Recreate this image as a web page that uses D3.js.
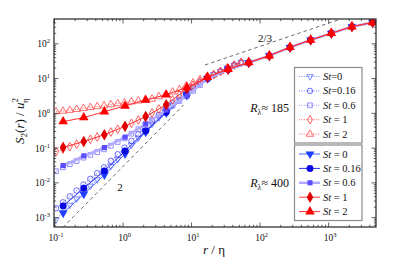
<!DOCTYPE html>
<html>
<head>
<meta charset="utf-8">
<script src="https://cdn.jsdelivr.net/npm/d3@7"></script>
<style>
  body { margin: 0; background: #fff; }
  svg text { font-family: "Liberation Serif", "Times New Roman", "DejaVu Serif", serif; fill: #111; }
</style>
</head>
<body>
<div id="chart"></div>
<script>
// r/eta sample positions
const xFilled = [0.136, 0.272, 0.544, 1.09, 2.18, 4.35, 8.7, 17.4, 34.8, 69.6, 139, 278, 557, 1114, 2228, 4456];
const xOpen = [0.107, 0.135, 0.170, 0.214, 0.269, 0.339, 0.427, 0.537, 0.676, 0.851, 1.07, 1.35, 1.70, 2.14,
  2.69, 3.39, 4.27, 5.37, 6.76, 8.51, 10.7, 13.5, 17.0, 21.4, 26.9, 33.9, 42.7, 53.7];

// R_lambda ~ 400 (filled)
const f_st0 = [0.0013, 0.0046, 0.0164, 0.066, 0.28, 1.0, 3.2, 9.6, 17.5, 27.5, 44, 76, 124, 194, 300, 396];
const f_st016 = [0.0021, 0.0068, 0.0214, 0.08, 0.3, 1.04, 3.3, 9.6, 17.5, 27.5, 44, 76, 124, 194, 300, 396];
const f_st06 = [0.0304, 0.058, 0.1, 0.2, 0.48, 1.21, 3.1, 9.5, 17.6, 27.6, 44, 76, 124, 194, 300, 396];
const f_st1 = [0.102, 0.15, 0.235, 0.41, 0.78, 1.72, 4.9, 10.6, 18, 28, 44, 77, 125, 195, 300, 398];
const f_st2 = [0.56, 0.73, 1.08, 1.58, 2.35, 3.3, 5.4, 10.5, 18, 28, 44, 77, 125, 195, 302, 400];

// R_lambda ~ 185 (open)
const o_st0 = [0.00085, 0.0014, 0.00224, 0.0034, 0.0052, 0.0079, 0.012, 0.0184, 0.0291, 0.0462, 0.0735, 0.119,
  0.191, 0.309, 0.474, 0.724, 1.10, 1.63, 2.38, 3.47, 4.9, 7.1, 10.0, 12.5, 15.5, 19.5, 23.5, 28];
const o_st016 = [0.0018, 0.00266, 0.00394, 0.00582, 0.0086, 0.0126, 0.0184, 0.0269, 0.0416, 0.0644, 0.100, 0.155,
  0.240, 0.373, 0.565, 0.853, 1.29, 1.90, 2.79, 3.8, 5.3, 7.6, 10.0, 12.5, 15.5, 19.5, 23.5, 28];
const o_st06 = [0.021, 0.0269, 0.0333, 0.0412, 0.0513, 0.0617, 0.0741, 0.0891, 0.113, 0.145, 0.184, 0.251,
  0.339, 0.457, 0.631, 0.871, 1.18, 1.61, 2.20, 3.0, 4.3, 6.3, 9.6, 12.5, 15.5, 19.5, 23.5, 28];
const o_st1 = [0.076, 0.091, 0.107, 0.126, 0.145, 0.173, 0.201, 0.233, 0.280, 0.337, 0.405, 0.50,
  0.62, 0.767, 0.99, 1.29, 1.68, 2.36, 3.34, 4.73, 6.2, 8.0, 10.3, 12.5, 15.5, 19.5, 23.5, 28];
const o_st2 = [1.08, 1.12, 1.19, 1.26, 1.35, 1.43, 1.52, 1.62, 1.73, 1.84, 1.95, 2.08,
  2.21, 2.35, 2.5, 2.95, 3.4, 4.0, 4.7, 6.0, 7.4, 9.1, 10.7, 12.6, 15.5, 19.5, 23.5, 28];

// reference slopes: [x0, x1], prefactor, exponent, label position
const slope2 = { x: [0.135, 7.8], c: 0.0278, p: 2, label: "2", at: [0.92, 0.0057] };
const slope23 = { x: [16, 1450], c: 3.75, p: 2 / 3, label: "2/3", at: [120, 109] };

const stLabelsOpen = ["=0", "=0.16", " = 0.6", " = 1", " = 2"];
const stLabelsFilled = [" = 0", " = 0.16", " = 0.6", " = 1", " = 2"];

const width = 415, height = 265;
const plot = { left: 54, right: 376, top: 19, bottom: 227 };

const svg = d3.select("#chart").append("svg")
  .attr("width", width).attr("height", height)
  .attr("font-family", "Liberation Serif, serif");

const x = d3.scaleLog().domain([0.1, 5000]).range([plot.left, plot.right]);
const y = d3.scaleLog().domain([5.2e-4, 500]).range([plot.bottom, plot.top]);

svg.append("clipPath").attr("id", "clip").append("rect")
  .attr("x", plot.left).attr("y", plot.top)
  .attr("width", plot.right - plot.left).attr("height", plot.bottom - plot.top);

const sym = {
  tri: d3.symbolTriangle, inv: d3.symbolTriangle, circ: d3.symbolCircle,
  sq: d3.symbolSquare, dia: d3.symbolDiamond
};

const openSeries = [
  { vals: o_st0, shape: "inv", color: "#5c74ff", size: 17 },
  { vals: o_st016, shape: "circ", color: "#4a4cff", size: 24 },
  { vals: o_st06, shape: "sq", color: "#7a72ff", size: 22 },
  { vals: o_st1, shape: "dia", color: "#ff3a3a", size: 22 },
  { vals: o_st2, shape: "tri", color: "#ff4848", size: 24 }
];
const filledSeries = [
  { vals: f_st0, shape: "inv", color: "#1f3fff", line: "#4a66ff", lw: 1, size: 34 },
  { vals: f_st016, shape: "circ", color: "#0a0ae0", line: "#3030e8", lw: 1, size: 38 },
  { vals: f_st06, shape: "sq", color: "#5a4cff", line: "#b2aaff", lw: 2.4, size: 26 },
  { vals: f_st1, shape: "dia", color: "#e00000", line: "#ff3a3a", lw: 1, size: 38 },
  { vals: f_st2, shape: "tri", color: "#ff0000", line: "#ff3030", lw: 1, size: 40 }
];

const g = svg.append("g").attr("clip-path", "url(#clip)");

const line = d3.line().x(d => x(d[0])).y(d => y(d[1]));

// guide lines
[slope2, slope23].forEach(s => {
  const pts = s.x.map(v => [v, s.c * Math.pow(v, s.p)]);
  g.append("path").attr("d", line(pts))
    .attr("fill", "none").attr("stroke", "#444").attr("stroke-width", 0.8)
    .attr("stroke-dasharray", "3.5,3");
  svg.append("text").attr("x", x(s.at[0])).attr("y", y(s.at[1]))
    .attr("text-anchor", "middle").style("font-size", "11px").text(s.label);
});

function marker(shape, size) {
  return d3.symbol().type(sym[shape]).size(size)();
}
function rot(shape) { return shape === "inv" ? " rotate(180)" : ""; }

// open series (R ~ 185): dotted lines
openSeries.forEach(s => {
  const pts = xOpen.map((v, i) => [v, s.vals[i]]);
  g.append("path").attr("d", line(pts)).attr("fill", "none")
    .attr("stroke", s.color).attr("stroke-width", 0.8).attr("stroke-dasharray", "1,1.4");
  g.selectAll(null).data(pts).enter().append("path")
    .attr("d", marker(s.shape, s.size))
    .attr("transform", d => `translate(${x(d[0])},${y(d[1])})${rot(s.shape)}`)
    .attr("fill", "none").attr("stroke", s.color).attr("stroke-width", 0.8);
});

// filled series (R ~ 400): solid lines
filledSeries.forEach(s => {
  const pts = xFilled.map((v, i) => [v, s.vals[i]]);
  g.append("path").attr("d", line(pts)).attr("fill", "none")
    .attr("stroke", s.line).attr("stroke-width", s.lw);
  g.selectAll(null).data(pts).enter().append("path")
    .attr("d", marker(s.shape, s.size))
    .attr("transform", d => `translate(${x(d[0])},${y(d[1])})${rot(s.shape)}`)
    .attr("fill", s.color);
});

// axes with inward ticks
const xMajor = d3.range(-1, 4).map(e => Math.pow(10, e));
const xMinor = [];
d3.range(-1, 4).forEach(e => d3.range(2, 10).forEach(m => {
  const v = m * Math.pow(10, e); if (v < 5000) xMinor.push(v);
}));
const yMajor = d3.range(-3, 3).map(e => Math.pow(10, e));
const yMinor = [];
d3.range(-4, 3).forEach(e => d3.range(2, 10).forEach(m => {
  const v = m * Math.pow(10, e); if (v > 5.2e-4 && v < 500) yMinor.push(v);
}));

function addAxis(gen, scale, vals, size, tr) {
  const a = svg.append("g").attr("transform", tr)
    .call(gen(scale).tickValues(vals).tickSizeInner(size).tickSizeOuter(0).tickFormat(""));
  a.select(".domain").remove();
  a.selectAll("line").attr("stroke", "#222").attr("stroke-width", 0.7);
}
addAxis(d3.axisBottom, x, xMajor, -4.5, `translate(0,${plot.bottom})`);
addAxis(d3.axisBottom, x, xMinor, -2.2, `translate(0,${plot.bottom})`);
addAxis(d3.axisTop, x, xMajor, -4.5, `translate(0,${plot.top})`);
addAxis(d3.axisTop, x, xMinor, -2.2, `translate(0,${plot.top})`);
addAxis(d3.axisLeft, y, yMajor, -4.5, `translate(${plot.left},0)`);
addAxis(d3.axisLeft, y, yMinor, -2.2, `translate(${plot.left},0)`);
addAxis(d3.axisRight, y, yMajor, -4.5, `translate(${plot.right},0)`);
addAxis(d3.axisRight, y, yMinor, -2.2, `translate(${plot.right},0)`);

svg.append("rect").attr("x", plot.left).attr("y", plot.top)
  .attr("width", plot.right - plot.left).attr("height", plot.bottom - plot.top)
  .attr("fill", "none").attr("stroke", "#222").attr("stroke-width", 1.2);

// tick labels 10^n
function powLabel(sel, e) {
  sel.append("tspan").text("10");
  sel.append("tspan").attr("dy", -4).style("font-size", "6.5px").text(e);
}
xMajor.forEach(v => {
  const t = svg.append("text").attr("x", x(v) + 2).attr("y", 241)
    .attr("text-anchor", "middle").style("font-size", "9.5px");
  powLabel(t, Math.round(Math.log10(v)));
});
yMajor.forEach(v => {
  const t = svg.append("text").attr("x", plot.left - 4).attr("y", y(v) + 4)
    .attr("text-anchor", "end").style("font-size", "9.5px");
  powLabel(t, Math.round(Math.log10(v)));
});

// axis titles
const xt = svg.append("text").attr("x", 214).attr("y", 254)
  .attr("text-anchor", "middle").style("font-size", "13px");
xt.append("tspan").style("font-style", "italic").text("r");
xt.append("tspan").text(" / η");

const yt = svg.append("text").attr("transform", "translate(24,121) rotate(-90)")
  .attr("text-anchor", "middle").style("font-size", "13px");
yt.append("tspan").style("font-style", "italic").text("S");
yt.append("tspan").attr("dy", 3).style("font-size", "9px").text("2");
yt.append("tspan").attr("dy", -3).text("(");
yt.append("tspan").style("font-style", "italic").text("r");
yt.append("tspan").text(") / ");
yt.append("tspan").style("font-style", "italic").text("u");
yt.append("tspan").attr("dy", -6).style("font-size", "9px").text("2");
yt.append("tspan").attr("dx", -5).attr("dy", 10).style("font-size", "9px").text("η");

// legends
function legend(series, labels, top, dotted, rLabel, rY) {
  svg.append("rect").attr("x", 294.5).attr("y", top)
    .attr("width", 67.5).attr("height", 75.5)
    .attr("fill", "#fff").attr("stroke", "#8a8a8a").attr("stroke-width", 1.2);
  series.forEach((s, i) => {
    const cy = top + 9 + i * 14.4;
    const l = svg.append("line").attr("x1", 299).attr("x2", 320).attr("y1", cy).attr("y2", cy)
      .attr("stroke", dotted ? s.color : s.line).attr("stroke-width", dotted ? 0.8 : s.lw);
    if (dotted) l.attr("stroke-dasharray", "1,1.4");
    svg.append("path").attr("d", marker(s.shape, s.size))
      .attr("transform", `translate(310,${cy})${rot(s.shape)}`)
      .attr("fill", dotted ? "none" : s.color)
      .attr("stroke", dotted ? s.color : "none").attr("stroke-width", 0.8);
    const t = svg.append("text").attr("x", 323).attr("y", cy + 3.5).style("font-size", "10.5px");
    t.append("tspan").style("font-style", "italic").text("St");
    t.append("tspan").text(labels[i]);
  });
  const rt = svg.append("text").attr("x", 289).attr("y", rY)
    .attr("text-anchor", "end").style("font-size", "12px");
  rt.append("tspan").style("font-style", "italic").text("R");
  rt.append("tspan").attr("dy", 3).style("font-size", "8px").text("λ");
  rt.append("tspan").attr("dy", -3).text("≈ " + rLabel);
}
legend(openSeries, stLabelsOpen, 67.5, true, "185", 112);
legend(filledSeries, stLabelsFilled, 145, false, "400", 187);
</script>
</body>
</html>
